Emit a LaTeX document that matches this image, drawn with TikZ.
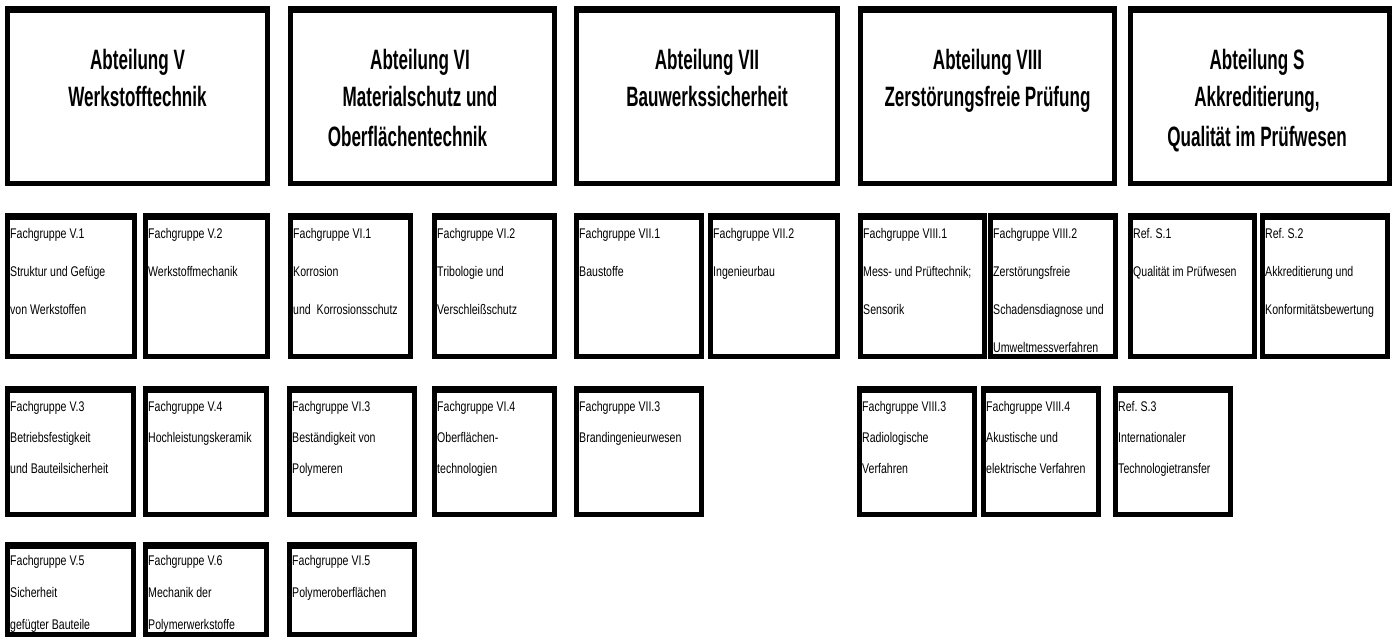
\documentclass[tikz,border=0pt]{standalone}
\usepackage{fontspec}
\setmainfont{Liberation Sans}
\newfontfamily\subfnt[FakeStretch=0.755]{Liberation Sans}
\newfontfamily\headfnt[FakeStretch=0.61]{Liberation Sans}
\tikzset{
  boxst/.style={draw=black, fill=white, line width=5pt, inner sep=0pt, outer sep=0pt,
    path picture={\fill[black] (path picture bounding box.north west) rectangle ([yshift=-4.5pt]path picture bounding box.north east);}},
  headtxt/.style={font=\headfnt\bfseries\fontsize{28}{37}\selectfont, align=center, inner sep=0pt, anchor=north},
  subA/.style={font=\subfnt\fontsize{14}{38}\selectfont, align=left, inner sep=0pt},
  subB/.style={font=\subfnt\fontsize{14}{31}\selectfont, align=left, inner sep=0pt},
  subC/.style={font=\subfnt\fontsize{14}{32}\selectfont, align=left, inner sep=0pt}
}
\newcommand\mkbox[5]{%
  \pgfmathsetmacro\bw{#4-#2-5}\pgfmathsetmacro\bh{#5-#3-5}%
  \node[boxst, minimum width=\bw pt, minimum height=\bh pt] (#1) at ({(#2+#4)/2},{(#3+#5)/2}) {};}
\newcommand\subbox[8]{%
  \mkbox{#1}{#2}{#3}{#4}{#5}%
  \node[#6, anchor=north west] (#1t) at ([xshift=2.5pt,yshift=#7]#1.north west) {#8};}
\begin{document}
\begin{tikzpicture}[x=1pt,y=-1pt]
\useasboundingbox (0,0) rectangle (1394,637);
% header boxes
\mkbox{hV}{5}{6}{270}{186}
\node[headtxt] (hVt) at ([yshift=-40.5pt]hV.north) {Abteilung V\\Werkstofftechnik};
\mkbox{hVI}{288}{6}{557}{186}
\node[headtxt] (hVIt) at ([xshift=-2.5pt,yshift=-40.5pt]hVI.north) {Abteilung VI\\Materialschutz und\\[3pt]Oberflächentechnik\hspace*{25pt}};
\mkbox{hVII}{574}{6}{840}{186}
\node[headtxt] (hVIIt) at ([yshift=-40.5pt]hVII.north) {Abteilung VII\\Bauwerkssicherheit};
\mkbox{hVIII}{858}{6}{1117}{186}
\node[headtxt] (hVIIIt) at ([yshift=-40.5pt]hVIII.north) {Abteilung VIII\\Zerstörungsfreie Prüfung};
\mkbox{hS}{1128}{6}{1392}{186}
\node[headtxt] (hSt) at ([xshift=-3pt,yshift=-40.5pt]hS.north) {Abteilung S\\Akkreditierung,\\[3pt]Qualität im Prüfwesen};
% row 2
\subbox{f51}{5}{213}{137}{359}{subA}{-13pt}{Fachgruppe V.1\\Struktur und Gefüge\\von Werkstoffen}
\subbox{f52}{143}{213}{270}{359}{subA}{-13pt}{Fachgruppe V.2\\Werkstoffmechanik}
\subbox{f61}{288}{213}{413}{359}{subA}{-13pt}{Fachgruppe VI.1\\Korrosion\\und\ \ Korrosionsschutz}
\subbox{f62}{432}{213}{557}{359}{subA}{-13pt}{Fachgruppe VI.2\\Tribologie und\\Verschleißschutz}
\subbox{f71}{574}{213}{704}{359}{subA}{-13pt}{Fachgruppe VII.1\\Baustoffe}
\subbox{f72}{708}{213}{840}{359}{subA}{-13pt}{Fachgruppe VII.2\\Ingenieurbau}
\subbox{f81}{858}{213}{987}{359}{subA}{-13pt}{Fachgruppe VIII.1\\Mess- und Prüftechnik;\\Sensorik}
\subbox{f82}{988}{213}{1118}{359}{subA}{-13pt}{Fachgruppe VIII.2\\Zerstörungsfreie\\Schadensdiagnose und\\Umweltmessverfahren}
\subbox{fS1}{1128}{213}{1257}{359}{subA}{-13pt}{Ref.\ S.1\\Qualität im Prüfwesen}
\subbox{fS2}{1260}{213}{1390}{359}{subA}{-13pt}{Ref.\ S.2\\Akkreditierung und\\Konformitätsbewertung}
% row 3
\subbox{f53}{5}{386}{136}{517}{subB}{-13pt}{Fachgruppe V.3\\Betriebsfestigkeit\\und Bauteilsicherheit}
\subbox{f54}{143}{386}{269}{517}{subB}{-13pt}{Fachgruppe V.4\\Hochleistungskeramik}
\subbox{f63}{287}{386}{417}{517}{subB}{-13pt}{Fachgruppe VI.3\\Beständigkeit von\\Polymeren}
\subbox{f64}{432}{386}{557}{517}{subB}{-13pt}{Fachgruppe VI.4\\Oberflächen-\\technologien}
\subbox{f73}{574}{386}{704}{517}{subB}{-13pt}{Fachgruppe VII.3\\Brandingenieurwesen}
\subbox{f83}{857}{386}{977}{517}{subB}{-13pt}{Fachgruppe VIII.3\\Radiologische\\Verfahren}
\subbox{f84}{981}{386}{1101}{517}{subB}{-13pt}{Fachgruppe VIII.4\\Akustische und\\elektrische Verfahren}
\subbox{fS3}{1113}{386}{1233}{517}{subB}{-13pt}{Ref.\ S.3\\Internationaler\\Technologietransfer}
% row 4
\subbox{f55}{5}{542}{136}{637}{subC}{-11pt}{Fachgruppe V.5\\Sicherheit\\gefügter Bauteile}
\subbox{f56}{143}{542}{269}{637}{subC}{-11pt}{Fachgruppe V.6\\Mechanik der\\Polymerwerkstoffe}
\subbox{f65}{287}{542}{417}{637}{subC}{-11pt}{Fachgruppe VI.5\\Polymeroberflächen}
\end{tikzpicture}
\end{document}
